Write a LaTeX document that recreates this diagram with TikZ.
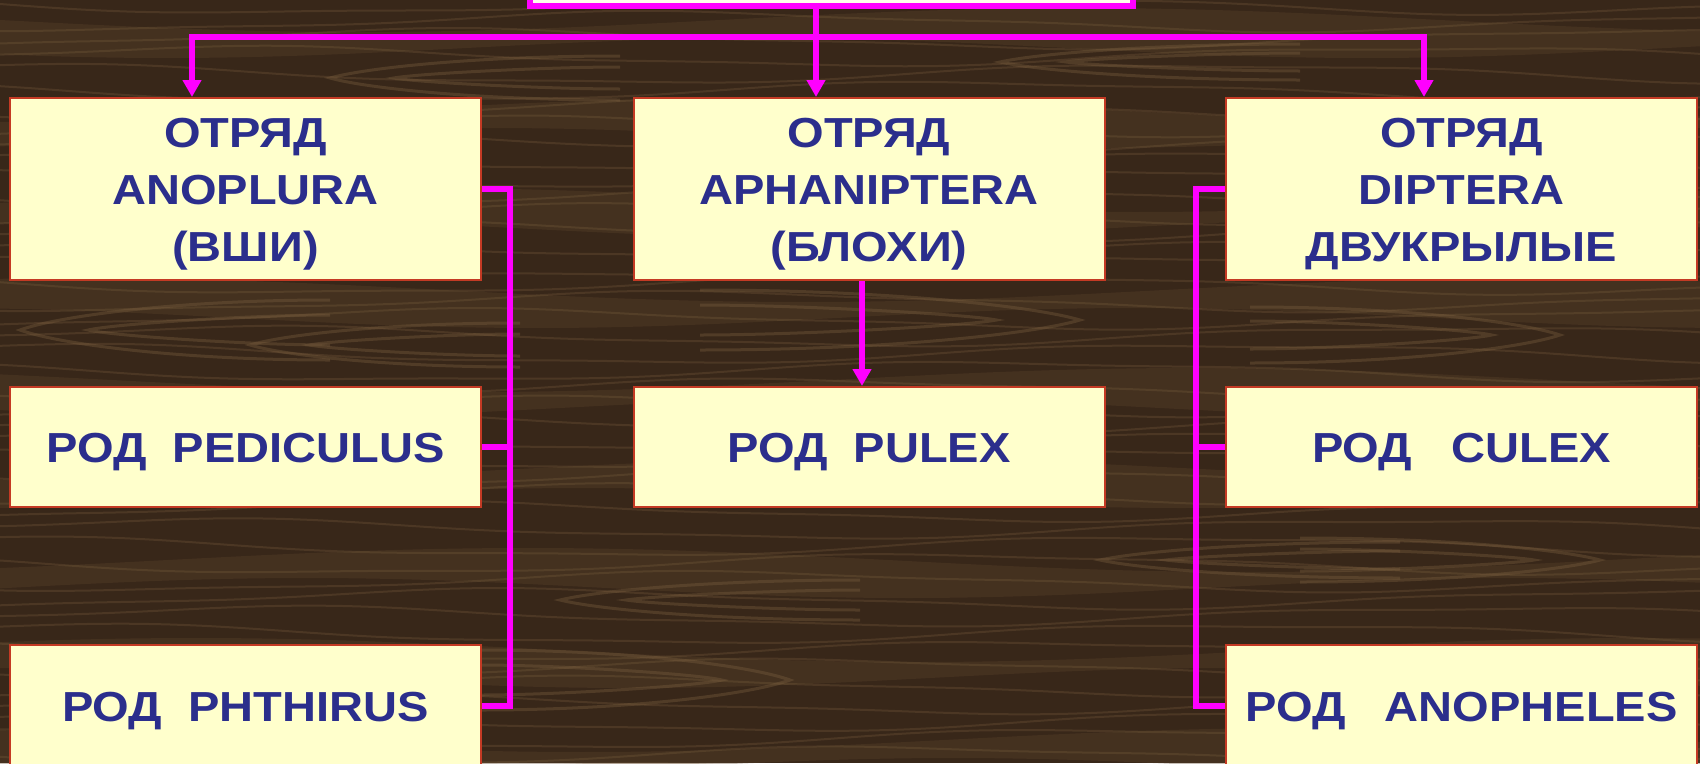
\documentclass[tikz,border=0pt]{standalone}
\usepackage{fontspec}
\setmainfont{Liberation Sans}
\newfontfamily\boxfont[FakeStretch=1.12]{Liberation Sans}
\usetikzlibrary{arrows.meta}
\definecolor{wood}{RGB}{56,39,25}
\definecolor{woodlight}{RGB}{92,68,44}
\definecolor{grainc}{RGB}{128,100,66}
\definecolor{cream}{RGB}{255,255,204}
\definecolor{boxred}{RGB}{196,58,36}
\definecolor{navy}{RGB}{43,46,140}
\definecolor{mag}{RGB}{255,0,255}
\newcommand\woodtip[4]{%
  \draw[swirl] ({#3},{#2-#4}) .. controls ({(#1+#3)/2},{#2-#4}) and ({#1+0.12*(#3-#1)},{#2-0.45*#4}) .. (#1,#2)
     .. controls ({#1+0.12*(#3-#1)},{#2+0.45*#4}) and ({(#1+#3)/2},{#2+#4}) .. ({#3},{#2+#4});
  \draw[swirl] ({#3},{#2-0.5*#4}) .. controls ({(#1+3*#3)/4},{#2-0.5*#4}) and ({#1+0.3*(#3-#1)},{#2-0.2*#4}) .. ({#1+0.22*(#3-#1)},{#2})
     .. controls ({#1+0.3*(#3-#1)},{#2+0.2*#4}) and ({(#1+3*#3)/4},{#2+0.5*#4}) .. ({#3},{#2+0.5*#4});
}
\begin{document}
\begin{tikzpicture}[x=1pt,y=-1pt,
  box/.style={draw=boxred, line width=2pt, fill=cream, text=navy,
    font=\boxfont\bfseries\fontsize{42}{57}\selectfont, align=center,
    inner sep=0pt, text height=30pt, text depth=0pt, minimum width=471pt},
  tall/.style={box, minimum height=182pt, text height=144pt},
  short/.style={box, minimum height=120pt},
  low/.style={box, minimum height=122pt},
  conn/.style={draw=mag, line width=6pt, line join=miter},
  tip/.style={-{Triangle[width=18pt,length=17pt]}},
  grain/.style={grainc, line width=2pt, opacity=0.28},
  swirl/.style={grainc, line width=3pt, opacity=0.35},
  topbox/.style={draw=mag, line width=6pt, fill=cream!35!white,
    minimum width=603pt, minimum height=100pt, inner sep=0pt}
]
\useasboundingbox (0,0) rectangle (1700,763);
\clip (0,0) rectangle (1700,763);
% wood background
\fill[wood] (0,0) rectangle (1700,763);
\foreach \i in {0,...,8}{
  \pgfmathsetmacro{\yy}{\i*90+20}
  \pgfmathsetmacro{\ph}{mod(\i*83,360)}
  \fill[woodlight, opacity=0.35] plot[variable=\t,domain=0:1700,samples=40,smooth] (\t,{\yy+12*sin(0.25*\t+\ph)})
     -- plot[variable=\t,domain=1700:0,samples=40,smooth] (\t,{\yy+28+10*sin(0.3*\t+\ph+40)}) -- cycle;
}
\foreach \i in {0,...,44}{
  \pgfmathsetmacro{\yy}{\i*17.5+4}
  \pgfmathsetmacro{\ph}{mod(\i*67,360)}
  \draw[grain] plot[variable=\t,domain=-10:1710,samples=50,smooth] (\t,{\yy+9*sin(0.3*\t+\ph)+2*sin(0.8*\t+2*\ph)});
}
\woodtip{20}{330}{330}{30}
\woodtip{250}{345}{520}{22}
\woodtip{1080}{320}{700}{30}
\woodtip{1560}{335}{1250}{28}
\woodtip{330}{78}{620}{22}
\woodtip{1000}{62}{1300}{18}
\woodtip{790}{680}{480}{30}
\woodtip{560}{600}{860}{20}
\woodtip{1100}{560}{1400}{18}
\woodtip{1600}{560}{1300}{22}

% nodes
\node[topbox] (top) at (831.5,-44) {};
\node[tall] (o1) at (245.5,189) {ОТРЯД\\ANOPLURA\\(ВШИ)};
\node[tall] (o2) at (869,189) {ОТРЯД\\APHANIPTERA\\(БЛОХИ)};
\node[tall] (o3) at (1461.5,189) {ОТРЯД\\DIPTERA\\ДВУКРЫЛЫЕ};
\node[short] (g1) at (245.5,447) {РОД\ \ PEDICULUS};
\node[short] (g2) at (869,447) {РОД\ \ PULEX};
\node[short] (g3) at (1461.5,447) {РОД\ \ \ CULEX};
\node[low] (p1) at (245.5,706) {РОД\ \ PHTHIRUS};
\node[low] (p3) at (1461.5,706) {РОД\ \ \ ANOPHELES};

% connectors
\coordinate (jL) at (192,37);
\coordinate (jM) at (816,37);
\coordinate (jR) at (1424,37);
\coordinate (jP) at (862,0);
\coordinate (bL) at (510,0);
\coordinate (bR) at (1196,0);
\draw[conn] (top.south -| jM) -- (jM);
\draw[conn,tip] (jM) -| (jL |- o1.north);
\draw[conn,tip] (jM) -| (jR |- o3.north);
\draw[conn,tip] (jM) -- (jM |- o2.north);
\draw[conn,tip] (jP |- o2.south) -- (jP |- g2.north);
\draw[conn] (o1.east) -| (bL |- p1.east) -- (p1.east);
\draw[conn] (g1.east) -- (bL |- g1.east);
\draw[conn] (o3.west) -| (bR |- p3.west) -- (p3.west);
\draw[conn] (g3.west) -- (bR |- g3.west);
\end{tikzpicture}
\end{document}
